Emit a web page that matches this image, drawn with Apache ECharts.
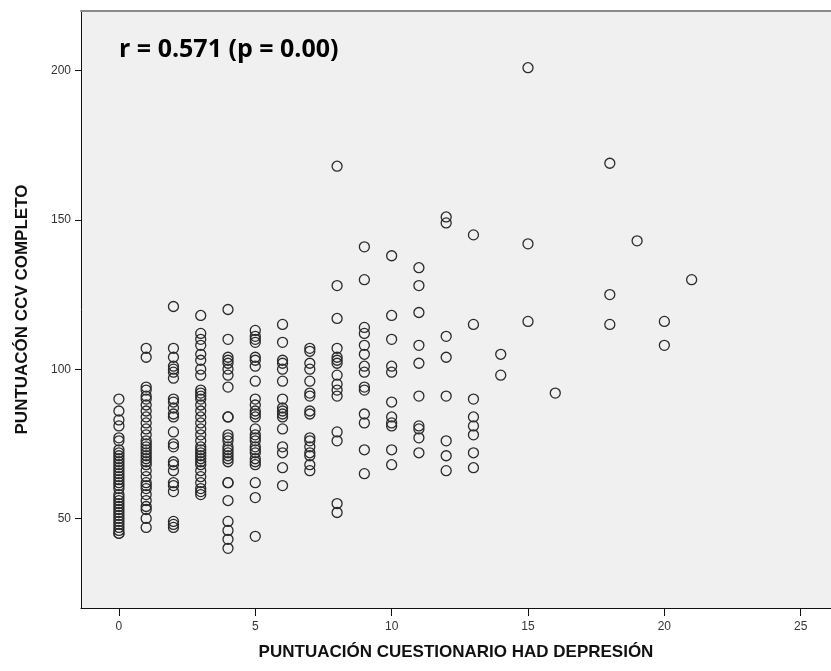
<!DOCTYPE html>
<html>
<head>
<meta charset="utf-8">
<script src="https://cdn.jsdelivr.net/npm/echarts@6/dist/echarts.min.js"></script>
<style>
  html, body { margin: 0; padding: 0; background: #ffffff; }
  #chart { width: 831px; height: 671px; }
</style>
</head>
<body>
<div id="chart"></div>
<script>
// HAD depression score (x) and the CCV scores observed at each one (y)
const hadScores = [0, 1, 2, 3, 4, 5, 6, 7, 8, 9, 10, 11, 12, 13, 14, 15, 16, 18, 19, 20, 21];

const ccv0  = [90, 86, 83, 81, 77, 76, 73, 72, 71, 70, 69, 68, 67, 66, 65, 64, 63, 62, 61, 60, 58, 57, 56, 55, 54, 53, 52, 51, 50, 49, 48, 47, 46, 45, 45];
const ccv1  = [107, 104, 94, 93, 91, 90, 88, 86, 84, 82, 80, 78, 76, 75, 74, 73, 72, 71, 70, 69, 68, 66, 64, 62, 61, 60, 58, 56, 54, 53, 50, 47];
const ccv2  = [121, 107, 104, 101, 100, 99, 97, 90, 89, 87, 85, 84, 79, 75, 74, 69, 68, 66, 62, 61, 59, 49, 48, 47];
const ccv3  = [118, 112, 110, 108, 105, 103, 100, 98, 93, 92, 91, 90, 88, 86, 84, 82, 80, 78, 76, 74, 73, 72, 71, 70, 69, 68, 66, 64, 62, 60, 59, 58];
const ccv4  = [120, 110, 104, 103, 102, 100, 98, 94, 84, 84, 78, 77, 76, 74, 73, 72, 71, 70, 69, 62, 62, 56, 49, 46, 43, 40];
const ccv5  = [113, 111, 110, 109, 104, 103, 101, 96, 90, 88, 86, 85, 84, 80, 78, 77, 76, 74, 73, 72, 70, 69, 68, 62, 57, 44];
const ccv6  = [115, 109, 103, 102, 100, 96, 90, 87, 86, 85, 84, 80, 74, 72, 67, 61];
const ccv7  = [107, 106, 102, 100, 96, 92, 91, 86, 85, 77, 76, 74, 72, 71, 68, 66];
const ccv8  = [168, 128, 117, 107, 104, 103, 102, 98, 95, 93, 91, 79, 76, 55, 52];
const ccv9  = [141, 130, 114, 112, 108, 105, 101, 99, 94, 93, 85, 82, 73, 65];
const ccv10 = [138, 118, 110, 101, 99, 89, 84, 82, 81, 73, 68];
const ccv11 = [134, 128, 119, 108, 102, 91, 81, 80, 77, 72];
const ccv12 = [151, 149, 111, 104, 91, 76, 71, 66];
const ccv13 = [145, 115, 90, 84, 81, 78, 72, 67];
const ccv14 = [105, 98];
const ccv15 = [201, 142, 116];
const ccv16 = [92];
const ccv18 = [169, 125, 115];
const ccv19 = [143];
const ccv20 = [116, 108];
const ccv21 = [130];

const ccvByScore = [ccv0, ccv1, ccv2, ccv3, ccv4, ccv5, ccv6, ccv7, ccv8, ccv9, ccv10,
                    ccv11, ccv12, ccv13, ccv14, ccv15, ccv16, ccv18, ccv19, ccv20, ccv21];

// Axis tick labels
const xTicks = [0, 5, 10, 15, 20, 25];
const yTicks = [50, 100, 150, 200];

const xTitle = 'PUNTUACIÓN CUESTIONARIO HAD DEPRESIÓN';
const yTitle = 'PUNTUACÓN CCV COMPLETO';
const corrText = 'r = 0.571 (p = 0.00)';

const points = [];
hadScores.forEach((h, i) => {
  ccvByScore[i].forEach(v => points.push([h, v]));
});

const X_MIN = -1.39, X_MAX = 26.11;

const chart = echarts.init(document.getElementById('chart'));
const tickFont = { color: '#333', fontSize: 12, fontFamily: '"Liberation Sans Narrow", "Liberation Sans", Arial, sans-serif' };
const nameFont = { color: '#111', fontSize: 17, fontWeight: 'bold', fontFamily: '"Liberation Sans Narrow", "Liberation Sans", Arial, sans-serif' };

chart.setOption({
  animation: false,
  backgroundColor: '#ffffff',
  grid: {
    left: 81, right: 0, top: 11, bottom: 63,
    show: true,
    backgroundColor: '#f0f0f0',
    borderWidth: 0
  },
  title: {
    text: corrText,
    left: 114, top: 32,
    textStyle: { fontSize: 25, fontWeight: 'bold', color: '#000', fontFamily: '"Open Sans", Lato, sans-serif' }
  },
  xAxis: [{
    type: 'value',
    min: X_MIN, max: X_MAX,
    name: xTitle,
    nameLocation: 'middle',
    nameGap: 36,
    nameTextStyle: nameFont,
    axisLine: { show: true, onZero: false, lineStyle: { color: '#111', width: 1 } },
    axisTick: { show: true, customValues: xTicks, length: 8, lineStyle: { color: '#111' } },
    axisLabel: { show: true, customValues: xTicks, margin: 13, ...tickFont },
    splitLine: { show: false }
  }, {
    // frame line along the top of the plot area
    type: 'value',
    position: 'top',
    min: X_MIN, max: X_MAX,
    axisLine: { show: true, onZero: false, lineStyle: { color: '#8a8a8a', width: 2 } },
    axisTick: { show: false },
    axisLabel: { show: false },
    splitLine: { show: false }
  }],
  yAxis: {
    type: 'value',
    min: 20, max: 220,
    name: yTitle,
    nameLocation: 'middle',
    nameGap: 50,
    nameTextStyle: nameFont,
    axisLine: { show: true, onZero: false, lineStyle: { color: '#111', width: 1 } },
    axisTick: { show: true, customValues: yTicks, length: 6, lineStyle: { color: '#111' } },
    axisLabel: { show: true, customValues: yTicks, margin: 10, ...tickFont },
    splitLine: { show: false }
  },
  series: [{
    type: 'scatter',
    xAxisIndex: 0,
    data: points,
    symbol: 'circle',
    symbolSize: 10,
    itemStyle: { color: 'rgba(0,0,0,0)', borderColor: '#2a2a2a', borderWidth: 1.3, opacity: 1 },
    emphasis: { disabled: true }
  }]
});
</script>
</body>
</html>
